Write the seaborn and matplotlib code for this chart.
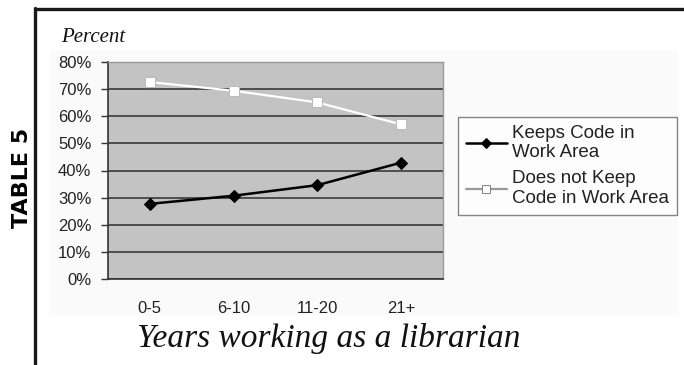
import matplotlib
matplotlib.use("Agg")
import matplotlib.pyplot as plt
import seaborn as sns
import pandas as pd
from matplotlib.lines import Line2D
from matplotlib.patches import Rectangle
from matplotlib.ticker import FixedLocator, PercentFormatter

categories = ["0-5", "6-10", "11-20", "21+"]
keeps = [27.7, 30.7, 34.6, 42.9]
does_not_keep = [72.6, 69.4, 65.1, 57.0]
series_names = ["Keeps Code in\nWork Area", "Does not Keep\nCode in Work Area"]
y_ticks = [0, 10, 20, 30, 40, 50, 60, 70, 80]

df = pd.DataFrame({
    "cat": categories * 2,
    "x": list(range(len(categories))) * 2,
    "val": keeps + does_not_keep,
    "series": [series_names[0]] * 4 + [series_names[1]] * 4,
})

sns.set_theme(style="white")
plt.rcParams["font.family"] = ["Liberation Sans", "DejaVu Sans"]

W, H = 684, 365
fig = plt.figure(figsize=(W / 100, H / 100), dpi=100)
fig.patch.set_facecolor("white")

# faint chart-area background
fig.add_artist(Rectangle((50 / W, 1 - 315 / H), (678 - 50) / W, (315 - 50) / H,
                         transform=fig.transFigure, facecolor="#fafafa",
                         edgecolor="none", zorder=0))

ax = fig.add_axes([108 / W, 1 - 279 / H, (443 - 108) / W, (279 - 62) / H])
ax.set_facecolor("#c3c3c3")

sns.lineplot(data=df[df.series == series_names[0]], x="x", y="val", ax=ax,
             color="black", linewidth=1.8, marker="D", markersize=6.5,
             markerfacecolor="black", markeredgecolor="black",
             label=series_names[0], zorder=5)
sns.lineplot(data=df[df.series == series_names[1]], x="x", y="val", ax=ax,
             color="white", linewidth=1.6, marker="s", markersize=6.5,
             markerfacecolor="white", markeredgecolor="#bbbbbb",
             label=series_names[1], zorder=5)

ax.set_xlim(-0.5, 3.5)
ax.set_ylim(0, 80)
ax.yaxis.set_major_locator(FixedLocator(y_ticks))
ax.yaxis.set_major_formatter(PercentFormatter(decimals=0))
ax.grid(axis="y", color="#3a3a3a", linewidth=1.2)
ax.set_axisbelow(True)

ax.set_xticks(range(len(categories)))
ax.set_xticklabels(categories)
ax.set_xticks([-0.5, 0.5, 1.5, 2.5, 3.5], minor=True)
ax.tick_params(axis="x", which="major", length=0, pad=16, labelsize=12, labelcolor="#222222")
ax.tick_params(axis="x", which="minor", length=6, width=1, color="#333333", direction="out")
ax.tick_params(axis="y", which="major", length=5, width=1, color="#333333",
               direction="out", pad=7, labelsize=12, labelcolor="#222222", left=True)
ax.set_xlabel("")
ax.set_ylabel("")

for side in ["left", "bottom"]:
    ax.spines[side].set_color("#333333")
    ax.spines[side].set_linewidth(1.2)
for side in ["top", "right"]:
    ax.spines[side].set_color("#999999")
    ax.spines[side].set_linewidth(1.0)

leg = ax.legend(loc="upper left", bbox_to_anchor=(458 / W, 1 - 117 / H),
                bbox_transform=fig.transFigure, frameon=True, fancybox=False,
                fontsize=13.5, handlelength=2.2, handletextpad=0.3,
                labelspacing=0.5, borderpad=0.4, borderaxespad=0,
                edgecolor="#666666")
leg.get_frame().set_linewidth(1.0)
leg.get_frame().set_facecolor("white")
for t in leg.get_texts():
    t.set_color("#222222")
handles = leg.legend_handles
handles[0].set_markersize(5)
handles[1].set_color("#999999")
handles[1].set_markerfacecolor("white")
handles[1].set_markeredgecolor("#888888")
handles[1].set_markersize(6)

fig.text(61 / W, 1 - 42 / H, "Percent", family="Liberation Serif", style="italic",
         fontsize=15, color="#111111")
fig.text(137 / W, 1 - 347 / H, "Years working as a librarian", family="Liberation Serif",
         style="italic", fontsize=24, color="#111111")
fig.text(22 / W, 1 - 178 / H, "TABLE 5", rotation=90, ha="center", va="center",
         family="DejaVu Sans", fontweight="heavy", fontsize=16, color="black")

# frame lines
fig.add_artist(Line2D([35 / W, 35 / W], [0, 1 - 8 / H], transform=fig.transFigure,
                      color="#1a1a1a", linewidth=2.4))
fig.add_artist(Line2D([35 / W, 1], [1 - 9 / H, 1 - 9 / H], transform=fig.transFigure,
                      color="#1a1a1a", linewidth=2.4))

fig.savefig("out.png", dpi=100)
